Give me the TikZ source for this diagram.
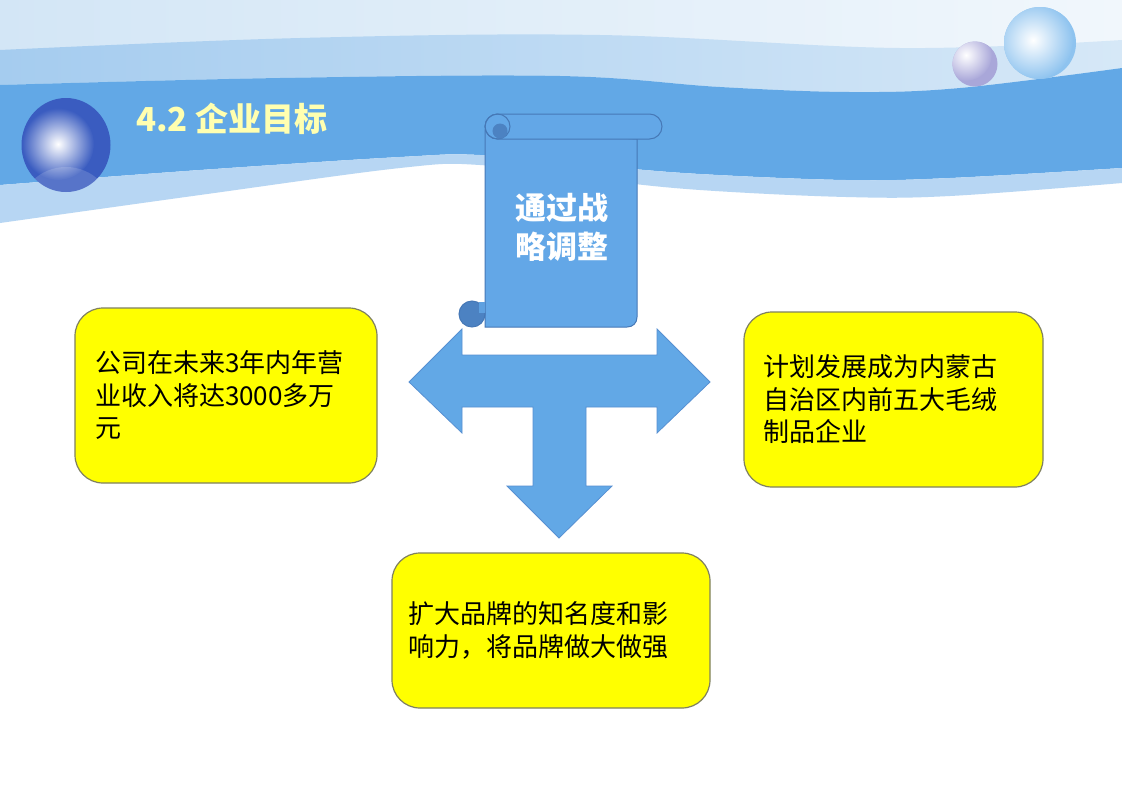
\documentclass[tikz,border=0pt]{standalone}
\usepackage{fontspec}
\setmainfont{Noto Sans CJK SC}
\definecolor{bandblue}{HTML}{62A8E6}
\definecolor{bandlight}{HTML}{A5CCEF}
\definecolor{bandpale}{HTML}{D6E8F7}
\definecolor{striplight}{HTML}{B7D6F3}
\definecolor{topleft}{HTML}{D3E6F6}
\definecolor{topmid}{HTML}{F1F7FC}
\definecolor{scrollfill}{HTML}{63A7E7}
\definecolor{scrollline}{HTML}{4678B6}
\definecolor{curldark}{HTML}{4C82C2}
\definecolor{arrowline}{HTML}{5790D2}
\definecolor{goalyellow}{HTML}{FFFF00}
\definecolor{goalline}{HTML}{7F8060}
\definecolor{titleyellow}{HTML}{FFFFB0}
\definecolor{sphereblue}{HTML}{3A5CC0}
\definecolor{spherelight}{HTML}{8EC3EF}
\definecolor{spherelilac}{HTML}{A9A7D9}
\begin{document}
\begin{tikzpicture}[x=1pt,y=-1pt,
  goalbox/.style={draw=goalline, line width=1.2pt, fill=goalyellow,
    rounded corners=28pt, align=left, inner ysep=0pt,
    font=\fontsize{26}{32.5}\selectfont},
  scrollpart/.style={fill=scrollfill, draw=scrollline, line width=1pt},
  curlpart/.style={fill=curldark, draw=scrollline, line width=1pt},
  scrolltext/.style={text=white, align=center, inner sep=0pt,
    font=\bfseries\fontsize{31}{39}\selectfont},
  titletext/.style={text=titleyellow, anchor=west, inner sep=0pt,
    font=\bfseries\fontsize{33}{40}\selectfont},
  bigarrow/.style={fill=bandblue, draw=arrowline, line width=0.8pt}]
\useasboundingbox (0,0) rectangle (1122,793);
\fill[white] (0,0) rectangle (1122,793);
% top pale area
\shade[left color=topleft, right color=topmid] (0,0) rectangle (1122,110);
% light band above
\shade[left color=bandlight, right color=bandpale]
  plot[smooth, tension=0.6] coordinates {(0,50) (300,38) (600,35) (900,48) (1122,40)}
  -- plot[smooth, tension=0.6] coordinates {(1122,68) (960,88) (850,92) (720,87) (560,76) (280,78) (0,85)}
  -- cycle;
% dark band
\fill[bandblue]
  plot[smooth, tension=0.6] coordinates {(0,85) (280,78) (560,76) (720,87) (850,92) (960,88) (1122,68)}
  -- plot[smooth, tension=0.6] coordinates {(1122,168) (950,178) (846,180) (700,174) (600,166) (480,155) (400,157) (200,170) (0,185)}
  -- cycle;
% light strip below
\fill[striplight]
  plot[smooth, tension=0.6] coordinates {(0,185) (200,170) (400,157) (480,155) (600,166) (700,174) (846,180) (950,178) (1122,168)}
  -- plot[smooth, tension=0.6] coordinates {(1122,183) (950,196) (846,197) (700,190) (600,180) (480,165) (400,168) (200,195) (0,223)}
  -- cycle;
% spheres
\fill[sphereblue] (66,145) ellipse [x radius=44.5, y radius=47];
\begin{scope}
  \clip (66,145) ellipse [x radius=44.5, y radius=47];
  \shade[inner color=white, outer color=sphereblue] (58,144) circle[radius=36];
  \fill[white, opacity=0.15] (66,215) circle[radius=48];
\end{scope}
\fill[spherelight] (1040,43) circle[radius=36];
\begin{scope}
  \clip (1040,43) circle[radius=36];
  \shade[inner color=white, outer color=spherelight] (1033,40) circle[radius=40];
\end{scope}
\fill[spherelilac] (975,64) circle[radius=22.5];
\begin{scope}
  \clip (975,64) circle[radius=22.5];
  \shade[inner color=white, outer color=spherelilac] (966,55) circle[radius=26];
\end{scope}
% title
\node[titletext] (title) at (136,119) {4.2 企业目标};
% scroll body
\path[scrollpart] (485,130) -- (485,327) -- (627,327)
  .. controls (633,327) and (637,323) .. (637,317) -- (637,139) -- cycle;
\path[curlpart] (472,314) circle[radius=13];
\fill[scrollfill!80!curldark] (479,302) rectangle (484.5,313);
\path[scrollpart, rounded corners=12.5] (485,114) rectangle (662,139);
\draw[scrollline, line width=1pt] (497.5,126.5) circle[radius=12.5];
\fill[curldark] (500,131) circle[radius=7.5];
\node[scrolltext] (strategy) at (562,227.5) {通过战\\略调整};
% three-way arrow
\path[bigarrow] (409,382) -- (462,329) -- (462,355) -- (657,355) -- (657,329)
  -- (710,382) -- (657,433) -- (657,407) -- (586,407) -- (586,486) -- (612,486)
  -- (559,538) -- (507,486) -- (533,486) -- (533,407) -- (462,407) -- (462,433) -- cycle;
% goal boxes
\node[goalbox, minimum width=302pt, minimum height=175pt, inner xsep=20pt,
  text width=262pt] (revenue) at (226,395.5)
  {公司在未来3年内年营\\业收入将达3000多万\\元};
\node[goalbox, minimum width=299pt, minimum height=175pt, inner xsep=19pt,
  text width=261pt] (rank) at (893.5,399.5)
  {计划发展成为内蒙古\\自治区内前五大毛绒\\制品企业};
\node[goalbox, minimum width=318pt, minimum height=155pt, inner xsep=16pt,
  text width=286pt] (brand) at (551,630.5)
  {扩大品牌的知名度和影\\响力，将品牌做大做强};
\end{tikzpicture}
\end{document}
